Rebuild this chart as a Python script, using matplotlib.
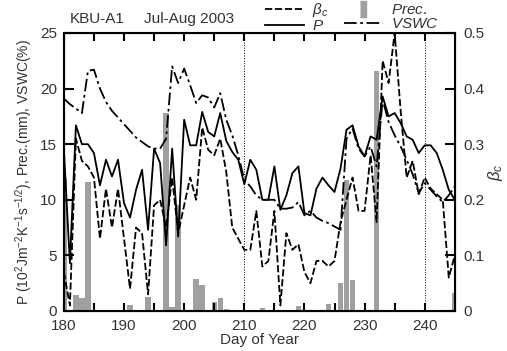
import matplotlib
matplotlib.use('Agg')
import matplotlib.pyplot as plt
from matplotlib.lines import Line2D

plt.rcParams['font.family'] = ['Liberation Sans', 'DejaVu Sans']
plt.rcParams['mathtext.fontset'] = 'custom'
plt.rcParams['mathtext.rm'] = 'Liberation Sans'
plt.rcParams['mathtext.it'] = 'Liberation Sans:italic'

days = list(range(180, 246))

# P (10^2 J m^-2 K^-1 s^-1/2)
p_vals = [14.5, 4.3, 16.7, 15.0, 15.0, 14.2, 11.3, 13.6, 12.1, 13.6,
          9.7, 8.4, 10.9, 12.7, 7.3, 14.6, 13.3, 5.9, 14.6, 6.7,
          17.2, 14.9, 14.9, 17.9, 16.1, 15.7, 17.8, 15.3, 14.3, 13.6,
          11.4, 13.6, 12.7, 10.0, 10.0, 13.0, 9.1, 10.4, 12.4, 13.0,
          8.8, 8.6, 11.0, 12.0, 11.3, 10.7, 12.8, 16.3, 16.7, 14.8,
          13.9, 15.7, 15.4, 19.3, 17.5, 17.8, 16.9, 15.7, 15.4, 14.2,
          14.9, 14.9, 14.2, 12.7, 10.9, 10.0]

# VSWC (%)
vswc_vals = [19.1, 18.6, 18.2, 17.8, 21.6, 21.7, 20.0, 18.8, 18.0, 17.4,
             16.8, 16.2, 15.6, 15.2, 14.8, 14.6, 14.6, 15.5, 22.0, 20.5,
             21.8, 20.3, 18.7, 19.4, 19.2, 18.3, 19.6, 17.2, 15.8, 14.0,
             11.8, 11.2, 10.4, 10.0, 10.0, 10.0, 9.2, 9.2, 9.3, 9.8,
             8.6, 9.0, 8.4, 8.1, 7.9, 7.6, 7.3, 15.5, 16.4, 14.6,
             13.9, 14.8, 13.0, 19.0, 17.0, 15.8, 14.8, 13.6, 12.3, 10.6,
             11.5, 10.9, 10.3, 9.8, 10.4, 11.2]

# beta_c
beta_vals = [0.07, 0.01, 0.31, 0.27, 0.26, 0.24, 0.13, 0.22, 0.15, 0.22,
             0.13, 0.04, 0.15, 0.14, 0.03, 0.19, 0.20, 0.15, 0.24, 0.14,
             0.19, 0.24, 0.20, 0.33, 0.29, 0.28, 0.31, 0.25, 0.15, 0.13,
             0.11, 0.11, 0.18, 0.08, 0.09, 0.18, 0.01, 0.14, 0.11, 0.12,
             0.07, 0.05, 0.09, 0.09, 0.08, 0.09, 0.16, 0.20, 0.24, 0.18,
             0.18, 0.28, 0.16, 0.45, 0.41, 0.50, 0.36, 0.24, 0.27, 0.21,
             0.24, 0.22, 0.21, 0.20, 0.06, 0.10]

# precipitation (mm)
prec_days = [180, 182, 183, 184, 191, 194, 197, 198, 199, 202, 203, 205, 206,
             207, 213, 219, 224, 226, 227, 228, 232, 245]
prec_vals = [12.0, 1.4, 1.2, 11.6, 0.5, 1.3, 17.8, 0.4, 9.5, 2.9, 2.3, 0.8, 1.2,
             0.2, 0.3, 0.45, 0.6, 2.5, 11.8, 2.8, 21.6, 1.6]

gray = '#a0a0a0'
txt = '#333333'

fig = plt.figure(figsize=(5.07, 3.51), dpi=100)
ax = fig.add_axes([0.126, 0.114, 0.771, 0.792])
ax2 = ax.twinx()

ax.bar(prec_days, prec_vals, width=0.9, color=gray, zorder=1)
ax.plot(days, p_vals, color='black', lw=1.3, linestyle='-', zorder=3)
ax.plot(days, vswc_vals, color='black', lw=1.3, dashes=(7, 2, 1.5, 2), zorder=3)
ax2.plot(days, beta_vals, color='black', lw=1.3, dashes=(4, 1.5), zorder=3)

for d in [210, 240]:
    ax.axvline(d, color='black', lw=0.7, linestyle=':', zorder=0)

ax.set_xlim(180, 245)
ax.set_ylim(0, 25)
ax2.set_ylim(0, 0.5)
ax.set_xticks([180, 190, 200, 210, 220, 230, 240])
ax.set_xticks(range(185, 245, 10), minor=True)
ax.set_yticks([0, 5, 10, 15, 20, 25])
ax2.set_yticks([0, 0.1, 0.2, 0.3, 0.4, 0.5])
ax2.set_yticklabels(['0', '0.1', '0.2', '0.3', '0.4', '0.5'])

ax.tick_params(axis='x', which='both', direction='in', top=True, length=6, width=1.5,
               labelsize=11, labelcolor=txt, pad=6)
ax.tick_params(axis='y', direction='in', length=7, width=1.5, labelsize=11,
               labelcolor=txt, pad=5)
ax2.tick_params(axis='y', direction='in', length=7, width=1.5, labelsize=11,
                labelcolor=txt, pad=6)
for sp in ax2.spines.values():
    sp.set_linewidth(1.5)

ax.set_xlabel('Day of Year', fontsize=11, color=txt, labelpad=0)
ax.set_ylabel(r'P (10$^2$Jm$^{-2}$K$^{-1}$s$^{-1/2}$), Prec.(mm), VSWC(%)',
              fontsize=10, color=txt, labelpad=4)
ax2.set_ylabel(r'$\beta_c$', fontsize=12, color=txt, labelpad=1)

fig.text(0.138, 0.935, 'KBU-A1', fontsize=11, color=txt)
fig.text(0.285, 0.935, 'Jul-Aug 2003', fontsize=11, color=txt)

bar_mark = [(-0.35, -1), (0.35, -1), (0.35, 1), (-0.35, 1)]
handles = [Line2D([], [], color='black', lw=1.3, dashes=(4, 1.5)),
           Line2D([], [], color='black', lw=1.3),
           Line2D([], [], linestyle='None', marker=bar_mark, markersize=11,
                  markerfacecolor=gray, markeredgecolor=gray),
           Line2D([], [], color='black', lw=1.3, dashes=(7, 2, 1.5, 2))]
labels = [r'$\beta_c$', r'$P$', r'$Prec.$', r'$VSWC$']
leg = fig.legend(handles, labels, ncol=2, loc='upper left', bbox_to_anchor=(0.495, 1.035),
                 frameon=False, fontsize=11, handlelength=2.6, handletextpad=0.5,
                 labelspacing=0.0, columnspacing=1.0, handleheight=0.6)
for t in leg.get_texts():
    t.set_color(txt)

fig.savefig('out.png', dpi=100)
